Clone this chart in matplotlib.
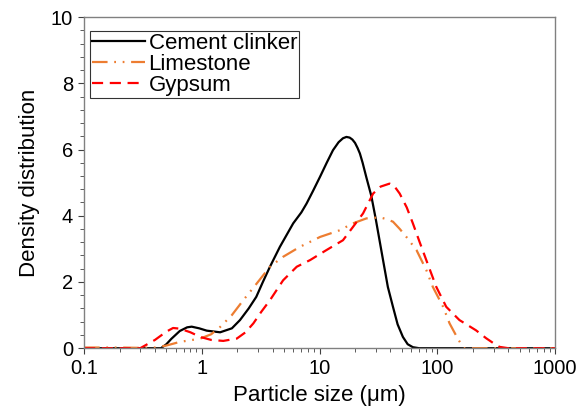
import matplotlib
matplotlib.use("Agg")
import matplotlib.pyplot as plt
from matplotlib.ticker import LogLocator, MultipleLocator, FixedLocator, NullFormatter

plt.rcParams['font.family'] = ['Liberation Sans', 'DejaVu Sans']

# Cement clinker
clinker_x = [0.1, 0.2, 0.3, 0.45, 0.5, 0.55, 0.65, 0.75, 0.82, 0.95, 1.1, 1.43, 1.8, 2.11, 2.5, 2.9,
             3.3, 3.79, 4.6, 5.97, 7.0, 7.76, 8.8, 10.1, 11.5, 13.0, 14.5, 15.8, 16.9, 18.0, 19.0, 20.0,
             21.0, 22.0, 23.2, 25.0, 27.5, 30.0, 34.6, 38.0, 42.0, 46.0, 51.0, 56.0, 62.0,
             70.0, 100, 300, 1000]
clinker_y = [0, 0, 0, 0, 0.12, 0.28, 0.52, 0.63, 0.65, 0.6, 0.53, 0.48, 0.6, 0.85, 1.2, 1.55,
             2.0, 2.46, 3.06, 3.77, 4.1, 4.37, 4.75, 5.18, 5.6, 5.98, 6.22, 6.34, 6.38, 6.36, 6.3, 6.2,
             6.05, 5.88, 5.6, 5.15, 4.6, 3.9, 2.66, 1.85, 1.25, 0.72, 0.34, 0.12, 0.03,
             0, 0, 0, 0]

# Limestone
lime_x = [0.1, 0.2, 0.3, 0.4, 0.5, 0.65, 0.8, 0.97, 1.2, 1.43, 1.8, 2.25, 2.92, 3.79, 4.9,
          6.8, 10.1, 14.8, 19.2, 25.0, 32.5, 37.0, 42.0, 48.0, 54.6, 66.6, 80.6, 91.6,
          112, 127, 144, 158, 170, 300, 1000]
lime_y = [0.02, 0.02, 0.01, 0.02, 0.08, 0.19, 0.24, 0.29, 0.42, 0.64, 1.0, 1.45, 1.95, 2.46, 2.76,
          3.06, 3.36, 3.56, 3.77, 3.92, 3.95, 3.9, 3.82, 3.6, 3.36, 2.96, 2.36, 1.85,
          1.25, 0.75, 0.39, 0.14, 0, 0, 0]

# Gypsum
gyp_x = [0.1, 0.2, 0.3, 0.4, 0.5, 0.57, 0.65, 0.8, 0.97, 1.2, 1.52, 1.98, 2.35, 2.74, 3.2, 3.79,
         4.9, 6.4, 8.3, 11.4, 15.8, 19.2, 23.4, 28.5, 33.0, 39.3, 43.0, 47.9, 55.0, 62.0,
         70.0, 80.6, 98, 119, 154, 213, 260, 297, 337, 400, 1000]
gyp_y = [0, 0, 0, 0.25, 0.5, 0.61, 0.59, 0.48, 0.34, 0.25, 0.22, 0.29, 0.48, 0.75, 1.1, 1.45,
         2.05, 2.46, 2.66, 2.96, 3.26, 3.66, 4.07, 4.67, 4.88, 4.97, 4.9, 4.67, 4.25, 3.77,
         3.25, 2.66, 1.85, 1.25, 0.85, 0.54, 0.3, 0.16, 0.04, 0, 0]

fig = plt.figure(figsize=(5.88, 4.16), dpi=100)
ax = fig.add_axes([0.143, 0.163, 0.801, 0.796])

ax.plot(clinker_x, clinker_y, color='black', lw=1.6, label='Cement clinker')
ax.plot(lime_x, lime_y, color='#ED7D31', lw=1.6, dashes=(7, 3, 0.8, 3, 0.8, 3), label='Limestone')
ax.plot(gyp_x, gyp_y, color='#FF0000', lw=1.6, dashes=(5, 3), label='Gypsum')

ax.set_xscale('log')
ax.set_xlim(0.1, 1000)
ax.set_ylim(0, 10)
ax.xaxis.set_major_locator(FixedLocator([0.1, 1, 10, 100, 1000]))
ax.set_xticklabels(['0.1', '1', '10', '100', '1000'])
ax.xaxis.set_minor_locator(LogLocator(base=10, subs=range(2, 10)))
ax.xaxis.set_minor_formatter(NullFormatter())
ax.yaxis.set_major_locator(MultipleLocator(2))
ax.yaxis.set_minor_locator(MultipleLocator(0.4))

for s in ax.spines.values():
    s.set_color('#808080')
    s.set_linewidth(1.0)
ax.tick_params(which='both', direction='out', color='#404040', labelsize=14.5, pad=4)
ax.tick_params(which='major', length=4)
ax.tick_params(which='minor', length=3)

ax.set_xlabel('Particle size (μm)', fontsize=16, labelpad=5)
ax.set_ylabel('Density distribution', fontsize=16, labelpad=8)

leg = ax.legend(loc='upper left', bbox_to_anchor=(0.012, 0.958), fontsize=16, frameon=True,
                fancybox=False, edgecolor='black', handlelength=2.4, handletextpad=0.15,
                borderpad=0.1, labelspacing=0.0, borderaxespad=0)
leg.get_frame().set_linewidth(0.8)

fig.savefig('out.png', dpi=100)
